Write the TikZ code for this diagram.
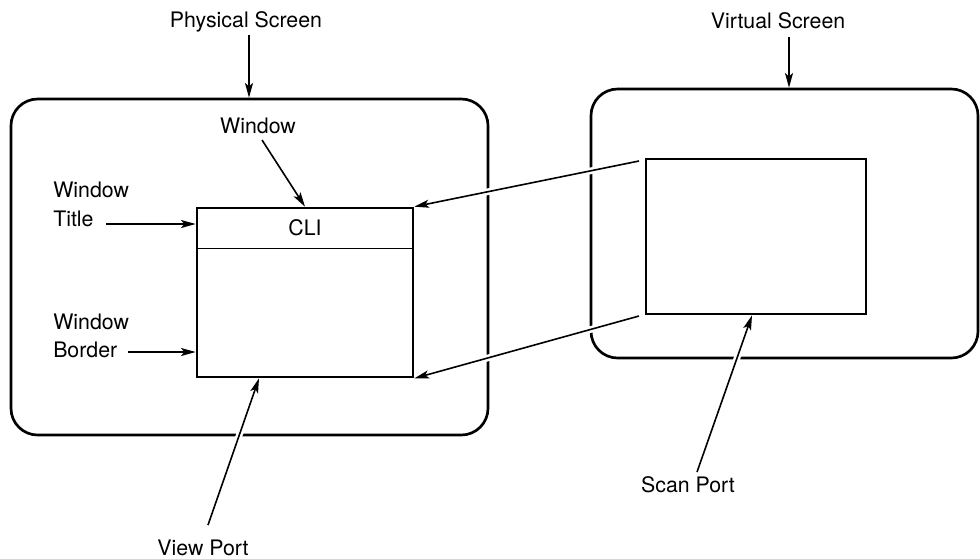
\documentclass[tikz,border=0pt]{standalone}
\usepackage{fontspec}
\setmainfont{TeX Gyre Heros}
\usetikzlibrary{arrows.meta,fit}
\begin{document}
\begin{tikzpicture}[x=0.75pt,y=-0.75pt,
  screen/.style={draw, line width=2pt, rounded corners=20pt, inner sep=0pt},
  port/.style={draw, line width=2pt, inner sep=0pt},
  lbl/.style={font=\fontsize{16}{19}\selectfont, inner sep=0pt, anchor=base},
  arr/.style={line width=1.2pt, -{Stealth[length=11pt,width=6pt,inset=2.5pt]}},
  halo/.style={preaction={draw=white, line width=5pt, -, shorten >=16pt, shorten <=3pt}}]
\useasboundingbox (0,0) rectangle (980,558);
% corner coordinates
\coordinate (p1) at (11,99);  \coordinate (p2) at (488,435);
\coordinate (v1) at (591,89); \coordinate (v2) at (978,358);
\coordinate (w1) at (197,208); \coordinate (w2) at (413,377);
\coordinate (s1) at (646,159); \coordinate (s2) at (866,314);
\coordinate (t2) at (413,248);
% screens and ports
\node[screen, fit=(p1)(p2)] (phys) {};
\node[screen, fit=(v1)(v2)] (virt) {};
\node[port, fit=(w1)(w2)] (win) {};
\node[port, fit=(s1)(s2)] (scan) {};
\node[inner sep=0pt, fit=(w1)(t2)] (tbar) {};
\draw[line width=1pt] (tbar.south west) -- (tbar.south east);
\node[lbl, anchor=center] (cli) at (tbar.center) {CLI};
% labels
\node[lbl] (physlbl) at (246,27) {Physical Screen};
\node[lbl] (virtlbl) at (778,28) {Virtual Screen};
\node[lbl] (winlbl) at (258,133) {Window};
\node[lbl, anchor=base west] (wt1) at (53,197) {Window};
\node[lbl, anchor=base west] (wt2) at (53,226) {Title};
\node[lbl, anchor=base west] (wb1) at (53,329) {Window};
\node[lbl, anchor=base west] (wb2) at (53,357) {Border};
\node[lbl] (vplbl) at (203,555) {View Port};
\node[lbl] (splbl) at (688,492) {Scan Port};
% arrow coordinates
\coordinate (pa) at (249,35);
\coordinate (va) at (789,37);
\coordinate (wa) at (262,140);
\coordinate (ta) at (106,224);
\coordinate (ba) at (128,352);
\coordinate (vpa) at (208,525);
\coordinate (vpt) at (259,377);
\coordinate (spa) at (697,472);
\coordinate (spt) at (752,314);
\coordinate (c1) at (639,161);
\coordinate (c2) at (639,316);
% arrows
\draw[arr] (pa) -- (pa |- phys.north);
\draw[arr] (va) -- (va |- virt.north);
\draw[arr] (wa) -- (win.north);
\draw[arr] (ta) -- (ta -| win.west);
\draw[arr] (ba) -- (ba -| win.west);
\draw[arr,halo] (vpa) -- (vpt |- win.south);
\draw[arr,halo] (spa) -- (spt |- scan.south);
\draw[arr,halo] (c1) -- (win.north east);
\draw[arr,halo] (c2) -- (win.south east);
\end{tikzpicture}
\end{document}
